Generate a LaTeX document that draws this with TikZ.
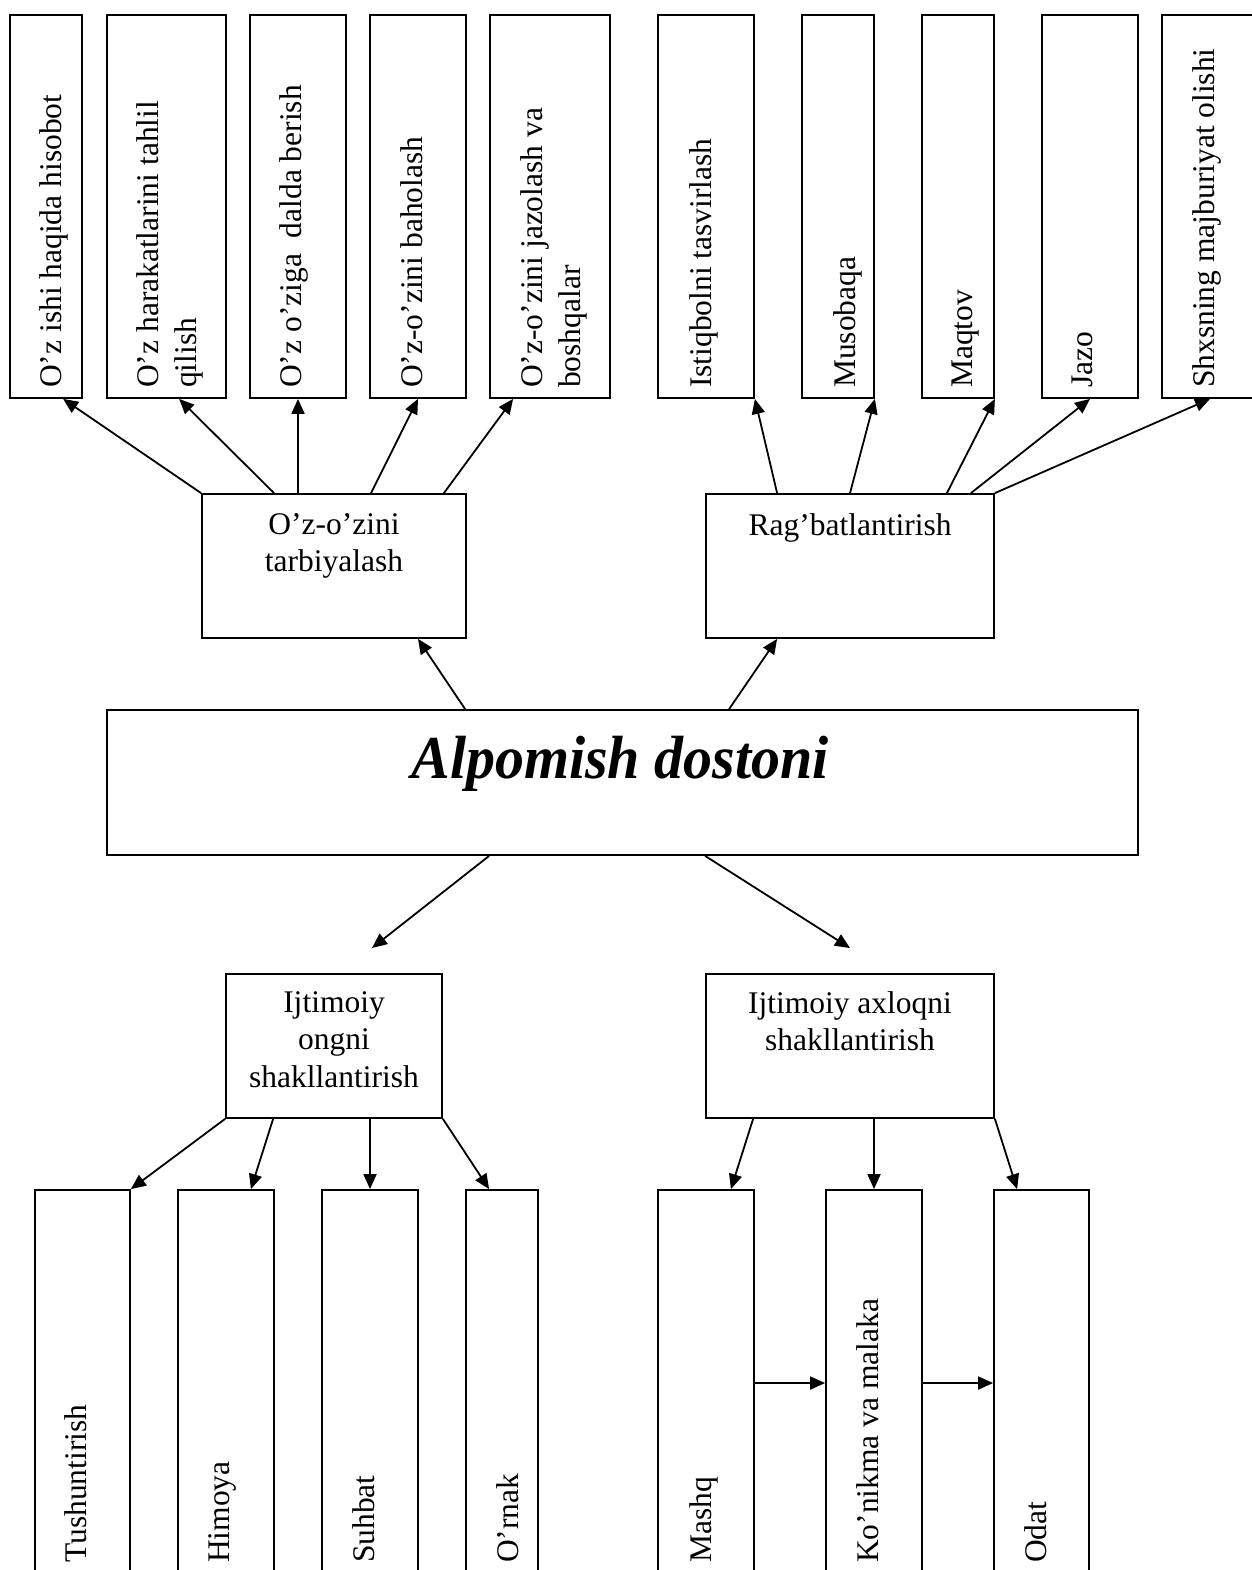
\documentclass[tikz,border=0pt]{standalone}
\usepackage{fontspec}
\setmainfont{Liberation Serif}
\newfontfamily\titlefont[FakeStretch=0.95]{Liberation Serif}
\usetikzlibrary{arrows.meta,calc}
\begin{document}
\begin{tikzpicture}[x=1pt,y=-1pt,
  box/.style={draw,line width=1.8pt,rectangle,inner sep=0pt},
  vt/.style={rotate=90,inner sep=0pt,align=left,anchor=north west,font=\fontsize{31.5}{38}\selectfont},
  ht/.style={inner sep=0pt,align=center,anchor=north,font=\fontsize{31.5}{37.5}\selectfont},
  arr/.style={line width=1.8pt,-{Triangle[length=15pt,width=13pt]}}]
\path[use as bounding box,fill=white] (0,0) rectangle (1251,1570);
% top boxes
\node[box,minimum width=72pt,minimum height=383pt] (b1) at (46,206.5) {};
\node[box,minimum width=119pt,minimum height=383pt] (b2) at (166.5,206.5) {};
\node[box,minimum width=96pt,minimum height=383pt] (b3) at (298,206.5) {};
\node[box,minimum width=96pt,minimum height=383pt] (b4) at (418,206.5) {};
\node[box,minimum width=120pt,minimum height=383pt] (b5) at (550,206.5) {};
\node[box,minimum width=96pt,minimum height=383pt] (b6) at (706,206.5) {};
\node[box,minimum width=72pt,minimum height=383pt] (b7) at (838,206.5) {};
\node[box,minimum width=72pt,minimum height=383pt] (b8) at (958,206.5) {};
\node[box,minimum width=96pt,minimum height=383pt] (b9) at (1090,206.5) {};
\node[box,minimum width=96pt,minimum height=383pt] (b10) at (1210,206.5) {};
\node[vt] (t1) at (39,388) {O’z ishi haqida hisobot};
\node[vt] (t2) at (136,388) {O’z harakatlarini tahlil\\qilish};
\node[vt] (t3) at (279,388) {O’z o’ziga~ dalda berish};
\node[vt] (t4) at (400,388) {O’z-o’zini baholash};
\node[vt] (t5) at (520,388) {O’z-o’zini jazolash va\\boshqalar};
\node[vt] (t6) at (689,388) {Istiqbolni tasvirlash};
\node[vt] (t7) at (833,388) {Musobaqa};
\node[vt] (t8) at (952,388) {Maqtov};
\node[vt] (t9) at (1072,388) {Jazo};
\node[vt] (t10) at (1192,388) {Shxsning majburiyat olishi};
% middle boxes
\node[box,minimum width=264pt,minimum height=144pt] (tarb) at (334,566) {};
\node[box,minimum width=288pt,minimum height=144pt] (rag) at (850,566) {};
\node[ht] (tarbt) at (334,513) {O’z-o’zini\\tarbiyalash};
\node[ht] (ragt) at (850,513) {Rag’batlantirish};
\node[box,minimum width=1031pt,minimum height=145pt] (main) at (622.5,782.5) {};
\node[inner sep=0pt,anchor=base,font=\titlefont\fontsize{61}{70}\selectfont\bfseries\itshape] (maint) at (620,778) {Alpomish dostoni};
\node[box,minimum width=216pt,minimum height=144pt] (ong) at (334,1046) {};
\node[box,minimum width=288pt,minimum height=144pt] (axl) at (850,1046) {};
\node[ht] (ongt) at (334,991) {Ijtimoiy\\ongni\\shakllantirish};
\node[ht] (axlt) at (850,991) {Ijtimoiy axloqni\\shakllantirish};
% bottom boxes
\node[box,minimum width=95pt,minimum height=430pt] (c1) at (82.5,1405) {};
\node[box,minimum width=96pt,minimum height=430pt] (c2) at (226,1405) {};
\node[box,minimum width=96pt,minimum height=430pt] (c3) at (370,1405) {};
\node[box,minimum width=72pt,minimum height=430pt] (c4) at (502,1405) {};
\node[box,minimum width=96pt,minimum height=430pt] (c5) at (706,1405) {};
\node[box,minimum width=96pt,minimum height=430pt] (c6) at (874,1405) {};
\node[box,minimum width=95pt,minimum height=430pt] (c7) at (1041.5,1405) {};
\node[vt] (u1) at (64,1563) {Tushuntirish};
\node[vt] (u2) at (208,1563) {Himoya};
\node[vt] (u3) at (352,1563) {Suhbat};
\node[vt] (u4) at (496,1563) {O’rnak};
\node[vt] (u5) at (689,1563) {Mashq};
\node[vt] (u6) at (856,1563) {Ko’nikma va malaka};
\node[vt] (u7) at (1024,1563) {Odat};
% connectors top
\draw[arr] (tarb.north west) -- ([xshift=54pt]b1.south west);
\draw[arr] ([xshift=73pt]tarb.north west) -- ([xshift=73pt]b2.south west);
\draw[arr] (b3.south |- tarb.north) -- (b3.south);
\draw[arr] ([xshift=37pt]tarb.north) -- (b4.south);
\draw[arr] ([xshift=-23pt]tarb.north east) -- ([xshift=24pt]b5.south west);
\draw[arr] ([xshift=72pt]rag.north west) -- (b6.south east);
\draw[arr] (rag.north) -- (b7.south east);
\draw[arr] ([xshift=-48pt]rag.north east) -- (b8.south east);
\draw[arr] ([xshift=-24pt]rag.north east) -- (b9.south);
\draw[arr] (rag.north east) -- (b10.south);
\draw[arr] ([xshift=359pt]main.north west) -- ([xshift=84pt]tarb.south);
\draw[arr] ([xshift=623pt]main.north west) -- ([xshift=72pt]rag.south west);
\coordinate (e1) at (372,948);
\coordinate (e2) at (850,948);
\draw[arr] ([xshift=383pt]main.south west) -- (e1);
\draw[arr] ([xshift=599pt]main.south west) -- (e2);
% connectors bottom
\draw[arr] (ong.south west) -- (c1.north east);
\draw[arr] ([xshift=48pt]ong.south west) -- ([xshift=-24pt]c2.north east);
\draw[arr] (c3.north |- ong.south) -- (c3.north);
\draw[arr] (ong.south east) -- ([xshift=24pt]c4.north west);
\draw[arr] ([xshift=48pt]axl.south west) -- ([xshift=-24pt]c5.north east);
\draw[arr] (c6.north |- axl.south) -- (c6.north);
\draw[arr] (axl.south east) -- ([xshift=24pt]c7.north west);
\coordinate (hy) at (0,1383);
\draw[arr] (c5.east |- hy) -- (c6.west |- hy);
\draw[arr] (c6.east |- hy) -- (c7.west |- hy);
\end{tikzpicture}
\end{document}
